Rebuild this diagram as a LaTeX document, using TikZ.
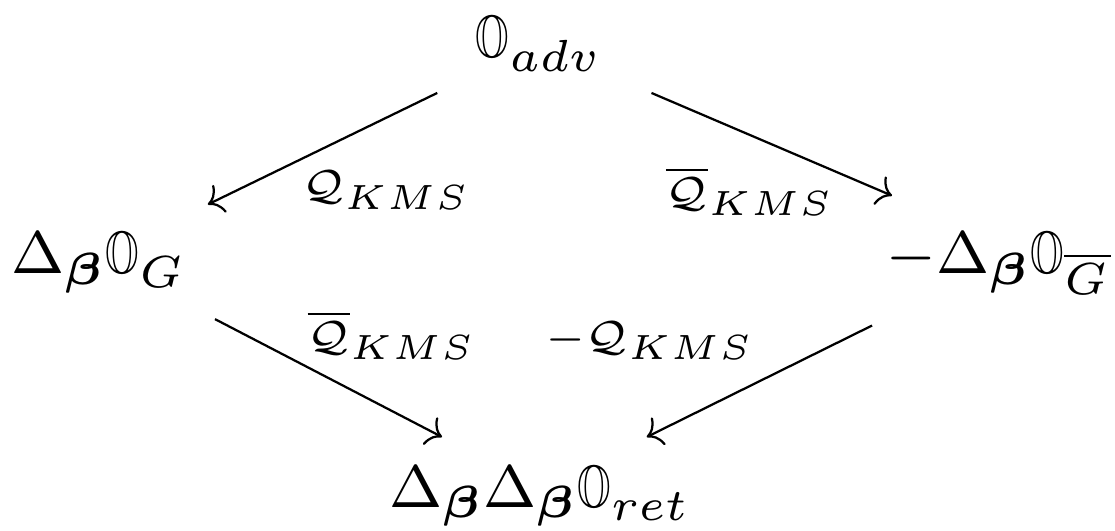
\documentclass[tikz,border=0pt]{standalone}
\usepackage{amsmath}
\usepackage{amssymb}
\usepackage{bm}
\usepackage{tikz}
\usetikzlibrary{arrows.meta}

% narrow double-struck O
\newcommand{\bbO}{\mathord{\scalebox{0.72}[1]{$\mathbb{O}$}}}

\tikzset{
  obj/.style={inner sep=0pt, anchor=base, scale=2.68, font=\fontsize{8}{10}\selectfont},
  lbl/.style={inner sep=0pt, anchor=base, scale=2.5, font=\fontsize{8}{10}\selectfont},
  cdarrow/.style={line width=0.8pt, -{Computer Modern Rightarrow[length=5pt,width=11pt]}}
}

\begin{document}
\begin{tikzpicture}
\useasboundingbox (0,0) rectangle (14,6.667);

% --- Objects ---
\node[obj] (adv) at (6.77,5.94) {$\bbO_{adv}$};
\node[obj] (G)   at (1.24,3.23) {$\Delta_{\bm\beta}\bbO_{G}$};
\node[obj] (Gb)  at (12.54,3.23) {$-\Delta_{\bm\beta}\bbO_{\overline{G}}$};
\node[obj] (ret) at (6.78,0.30) {$\Delta_{\bm\beta}\Delta_{\bm\beta}\bbO_{ret}$};

% --- Maps ---
\draw[cdarrow] ([shift={(-1.28,-0.44)}]adv.base) -- ([shift={(1.37,0.87)}]G.base);
\draw[cdarrow] ([shift={(1.41,-0.44)}]adv.base) -- ([shift={(-1.34,0.98)}]Gb.base);
\draw[cdarrow] ([shift={(1.46,-0.57)}]G.base) -- ([shift={(-1.23,0.88)}]ret.base);
\draw[cdarrow] ([shift={(-1.59,-0.65)}]Gb.base) -- ([shift={(1.34,0.88)}]ret.base);

% --- Labels (script style) ---
\node[lbl] (qtl) at (4.85,4.16) {$\scriptstyle\mathcal{Q}_{KMS}$};
\node[lbl] (qtr) at (9.42,4.08) {$\scriptstyle\overline{\mathcal{Q}}_{KMS}$};
\node[lbl] (qbl) at (4.92,2.27) {$\scriptstyle\overline{\mathcal{Q}}_{KMS}$};
\node[lbl] (qbr) at (8.16,2.27) {$\scriptstyle-\mathcal{Q}_{KMS}$};

\end{tikzpicture}
\end{document}
